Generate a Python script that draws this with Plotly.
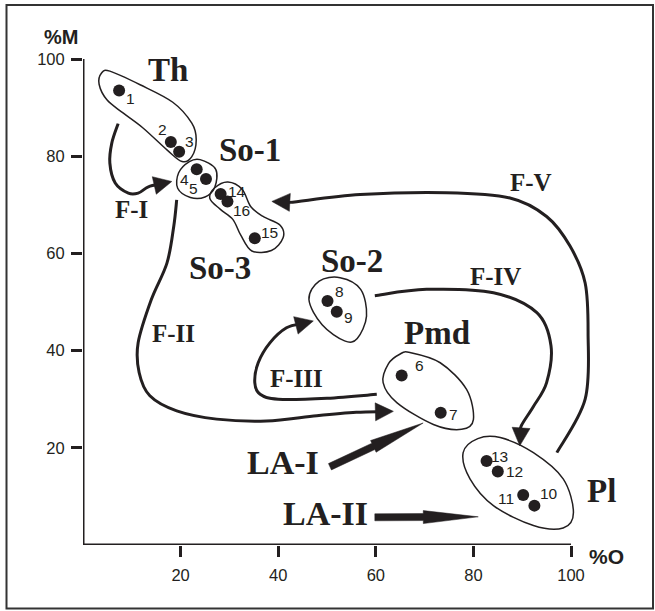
import numpy as np
import plotly.graph_objects as go

# ---------------- data ----------------
point_ids = ["1", "2", "3", "4", "5", "6", "7", "8", "9", "10", "11", "12", "13", "14", "15", "16"]
pct_O = [7.4, 18.0, 19.7, 23.3, 25.2, 65.3, 73.3, 50.1, 52.0, 92.5, 90.2, 85.0, 82.7, 28.2, 35.2, 29.6]
pct_M = [93.5, 82.9, 80.9, 77.3, 75.3, 34.9, 27.2, 50.2, 48.0, 8.1, 10.3, 15.1, 17.3, 72.2, 63.1, 70.7]

x_ticks = [20, 40, 60, 80, 100]
y_ticks = [20, 40, 60, 80, 100]

group_names = ["Th", "So-1", "So-3", "So-2", "Pmd", "Pl"]
flow_names = ["F-I", "F-II", "F-III", "F-IV", "F-V"]
la_names = ["LA-I", "LA-II"]

# ---------------- styling / geometry ----------------
INK = "#231f20"
KX, KY = 4.88, 4.86          # px per data unit
ML, MR, MT, MB = 83, 10, 15, 66
W, H = 655, 611
PW, PH = W - ML - MR, H - MT - MB
XMAX = PW / KX
YMAX = PH / KY

# label offsets (px) for point numbers
label_offsets = {
    "1": (11, -8), "2": (-8, 13), "3": (10, 10), "4": (-12, -10), "5": (-12, -9),
    "14": (16, 3), "16": (14, -9), "15": (15, 6), "8": (12, 10), "9": (12, -6),
    "6": (18, 10), "7": (13, -2), "13": (13, 4), "12": (17, 0), "10": (15, 12), "11": (-17, -4),
}

# outline of groups (data units)
blobs = {
    "Th": [(3.8, 97.1), (5.5, 97.5), (11.7, 94.7), (18.4, 91.1), (22.3, 86.8), (23.2, 83.4),
           (22.3, 79.9), (20.3, 78.9), (17.2, 81.3), (12.3, 85.8), (8.2, 88.9), (4.9, 91.6), (3.3, 94.8)],
    "So-1": [(24.0, 79.3), (27.2, 77.3), (27.0, 73.6), (25.0, 71.6), (22.0, 71.5), (19.4, 73.4),
             (19.6, 76.6), (21.8, 78.9)],
    "So-3": [(27.0, 73.5), (29.7, 74.7), (32.6, 73.2), (34.4, 69.6), (36.9, 67.6), (40.4, 65.8),
             (41.0, 63.2), (38.6, 60.6), (34.6, 60.5), (32.3, 63.8), (30.7, 67.0), (28.1, 69.1), (26.0, 71.3)],
    "So-2": [(52.7, 55.0), (56.9, 52.6), (58.1, 47.1), (56.2, 42.5), (53.6, 42.0), (49.0, 45.3),
             (46.3, 50.5), (48.4, 54.3)],
    "Pmd": [(67.0, 39.6), (73.2, 37.5), (78.6, 32.0), (80.0, 25.8), (77.6, 23.8), (71.8, 24.8),
            (64.3, 29.3), (61.5, 33.4), (62.6, 37.3), (65.0, 39.3)],
    "Pl": [(85.5, 22.1), (92.3, 19.0), (98.4, 13.6), (100.5, 6.7), (98.4, 3.5), (92.3, 4.0),
           (84.1, 8.1), (79.3, 13.6), (77.9, 19.0), (80.9, 21.9)],
}

group_label_pos = {"Th": (17.4, 97.7), "So-1": (34.2, 81.3), "So-3": (28.1, 57.0),
                   "So-2": (55.1, 58.4), "Pmd": (72.6, 43.7), "Pl": (106.3, 11.1)}

flows = {
    "F-I": [(7.2, 86.7), (5.9, 82.7), (5.5, 78.6), (6.6, 74.5), (9.3, 72.4), (11.3, 72.4),
            (13.4, 73.7), (18.2, 74.8)],
    "F-II": [(19.2, 71.0), (18.6, 65.6), (17.2, 58.0), (14.0, 50.5), (11.3, 41.6), (11.5, 35.5),
             (13.7, 30.7), (19.2, 27.6), (27.4, 25.9), (37.6, 25.5), (47.9, 26.6), (56.0, 27.3), (63.6, 27.5)],
    "F-III": [(60.2, 31.0), (50.0, 30.2), (40.0, 30.0), (36.3, 31.0), (35.2, 33.4), (35.9, 37.5),
              (38.3, 41.6), (41.7, 44.7), (47.2, 46.1)],
    "F-IV": [(59.8, 51.3), (70.4, 52.6), (84.1, 51.9), (93.0, 47.8), (95.9, 41.0), (95.0, 33.4),
             (92.3, 28.5), (89.8, 24.5), (89.5, 20.4)],
    "F-V": [(97.1, 19.0), (102.9, 30.0), (103.5, 43.7), (102.9, 53.9), (99.8, 61.5), (95.0, 67.6),
            (87.5, 71.4), (74.5, 72.5), (56.8, 72.1), (42.4, 70.5), (38.7, 70.7)],
}
flow_label_pos = {"F-I": (10.0, 69.0), "F-II": (18.6, 43.5), "F-III": (43.8, 34.3),
                  "F-IV": (84.6, 55.3), "F-V": (91.7, 74.5)}

la_arrows = {"LA-I": ((50.6, 16.1), (69.7, 25.1)), "LA-II": ((59.8, 5.7), (81.0, 5.8))}
la_label_pos = {"LA-I": (40.9, 17.0), "LA-II": (49.6, 6.4)}


def to_px(p):
    return np.array([p[0] * KX, p[1] * KY])


def to_data(q):
    return (q[0] / KX, q[1] / KY)


def px_to_paper(px, py):
    return (px - ML) / PW, (H - MB - py) / PH


def smooth_path(pts, closed):
    P = [np.array(p, dtype=float) for p in pts]
    n = len(P)
    segs = n if closed else n - 1
    d = f"M {P[0][0]:.3f},{P[0][1]:.3f}"
    for i in range(segs):
        p1 = P[i]
        p2 = P[(i + 1) % n]
        if closed:
            p0 = P[(i - 1) % n]
            p3 = P[(i + 2) % n]
        else:
            p0 = P[i - 1] if i > 0 else p1
            p3 = P[i + 2] if i + 2 < n else p2
        c1 = p1 + (p2 - p0) / 6.0
        c2 = p2 - (p3 - p1) / 6.0
        d += f" C {c1[0]:.3f},{c1[1]:.3f} {c2[0]:.3f},{c2[1]:.3f} {p2[0]:.3f},{p2[1]:.3f}"
    if closed:
        d += " Z"
    return d


def poly_path(pts):
    return "M " + " L ".join(f"{x:.3f},{y:.3f}" for x, y in pts) + " Z"


shapes = []

# frame
fx0, fy0 = px_to_paper(6.5, 608.5)
fx1, fy1 = px_to_paper(653, 5)
shapes.append(dict(type="rect", xref="paper", yref="paper", x0=fx0, x1=fx1, y0=fy0, y1=fy1,
                   line=dict(color="#333333", width=2)))
# axis lines
shapes.append(dict(type="line", xref="x", yref="y", x0=0, y0=0, x1=0, y1=100,
                   line=dict(color=INK, width=3)))
shapes.append(dict(type="line", xref="x", yref="y", x0=-0.3, y0=0, x1=100, y1=0,
                   line=dict(color=INK, width=3)))

# blobs
for name, pts in blobs.items():
    shapes.append(dict(type="path", xref="x", yref="y", path=smooth_path(pts, True),
                       line=dict(color=INK, width=1.5), fillcolor="rgba(0,0,0,0)"))

# flow arrows
HEAD_L, HEAD_W = 18, 18
for name, pts in flows.items():
    tip = to_px(pts[-1])
    prev = to_px(pts[-2])
    dvec = tip - prev
    dvec = dvec / np.linalg.norm(dvec)
    nvec = np.array([-dvec[1], dvec[0]])
    base = tip - dvec * HEAD_L
    line_end = tip - dvec * (HEAD_L * 0.6)
    curve = list(pts[:-1]) + [to_data(line_end)]
    shapes.append(dict(type="path", xref="x", yref="y", path=smooth_path(curve, False),
                       line=dict(color=INK, width=3)))
    tri = [to_data(tip), to_data(base + nvec * HEAD_W / 2), to_data(base - nvec * HEAD_W / 2)]
    shapes.append(dict(type="path", xref="x", yref="y", path=poly_path(tri),
                       line=dict(color=INK, width=0.5), fillcolor=INK))

# LA arrows
SHAFT_W, LA_HEAD_L, LA_HEAD_W = 7, 55, 13
for name, (s, t) in la_arrows.items():
    S, T = to_px(s), to_px(t)
    dvec = (T - S) / np.linalg.norm(T - S)
    nvec = np.array([-dvec[1], dvec[0]])
    Hb = T - dvec * LA_HEAD_L
    poly = [S + nvec * SHAFT_W / 2, Hb + nvec * SHAFT_W / 2, Hb + nvec * LA_HEAD_W / 2, T,
            Hb - nvec * LA_HEAD_W / 2, Hb - nvec * SHAFT_W / 2, S - nvec * SHAFT_W / 2]
    shapes.append(dict(type="path", xref="x", yref="y", path=poly_path([to_data(q) for q in poly]),
                       line=dict(color=INK, width=0.5), fillcolor=INK))

annotations = []
for pid, x, y in zip(point_ids, pct_O, pct_M):
    dx, dy = label_offsets[pid]
    annotations.append(dict(x=x, y=y, xref="x", yref="y", text=pid, showarrow=False,
                            xshift=dx, yshift=dy,
                            font=dict(family="Liberation Sans", size=15.5, color=INK)))

serif_big = dict(family="Liberation Serif", size=33, color=INK)
serif_mid = dict(family="Liberation Serif", size=25, color=INK)
for name in group_names:
    x, y = group_label_pos[name]
    annotations.append(dict(x=x, y=y, xref="x", yref="y", text=f"<b>{name}</b>", showarrow=False,
                            font=serif_big))
for name in flow_names:
    x, y = flow_label_pos[name]
    annotations.append(dict(x=x, y=y, xref="x", yref="y", text=f"<b>{name}</b>", showarrow=False,
                            font=serif_mid))
for name in la_names:
    x, y = la_label_pos[name]
    annotations.append(dict(x=x, y=y, xref="x", yref="y", text=f"<b>{name}</b>", showarrow=False,
                            font=dict(family="Liberation Serif", size=34, color=INK)))

# axis titles
mx, my = px_to_paper(61, 37)
ox, oy = px_to_paper(606, 556)
annotations.append(dict(x=mx, y=my, xref="paper", yref="paper", xanchor="center", yanchor="middle",
                        text="<b>%M</b>", showarrow=False,
                        font=dict(family="Liberation Sans", size=20, color=INK)))
annotations.append(dict(x=ox, y=oy, xref="paper", yref="paper", xanchor="center", yanchor="middle",
                        text="<b>%O</b>", showarrow=False,
                        font=dict(family="Liberation Sans", size=21, color=INK)))

fig = go.Figure()
fig.add_trace(go.Scatter(x=pct_O, y=pct_M, mode="markers", cliponaxis=False,
                         marker=dict(size=12, color=INK), hoverinfo="skip", showlegend=False))

axis_common = dict(showgrid=False, zeroline=False, showline=False, ticks="outside", ticklen=11,
                   tickwidth=2.5, tickcolor=INK,
                   tickfont=dict(family="Liberation Sans", size=16.5, color=INK))
fig.update_layout(
    width=W, height=H, margin=dict(l=ML, r=MR, t=MT, b=MB),
    paper_bgcolor="white", plot_bgcolor="white",
    xaxis=dict(range=[0, XMAX], tickvals=x_ticks, ticktext=[str(v) for v in x_ticks],
               ticklabelstandoff=4, **axis_common),
    yaxis=dict(range=[0, YMAX], tickvals=y_ticks, ticktext=[str(v) for v in y_ticks],
               ticklabelstandoff=3, **axis_common),
    shapes=shapes, annotations=annotations, showlegend=False,
)
fig.write_html("out.html", config={"displayModeBar": False},
               post_script="document.body.style.margin='0';document.body.style.padding='0';")
